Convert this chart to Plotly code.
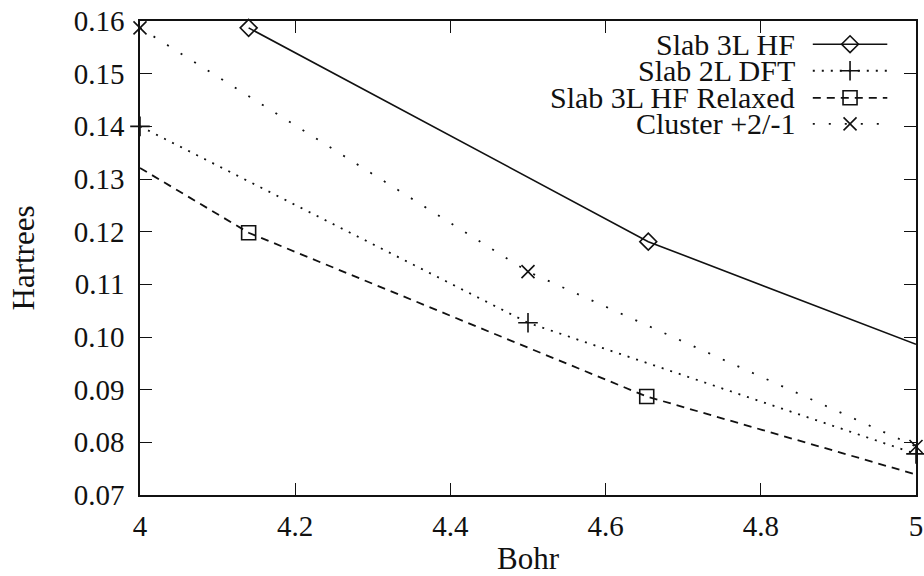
import plotly.graph_objects as go

# ---- data ----
hf_x = [4.14, 4.655, 5.0]
hf_y = [0.1587, 0.1181, 0.0986]
hf_marked = 2  # first N points carry a diamond marker

dft_x = [4.0, 4.5, 5.0]
dft_y = [0.1400, 0.1027, 0.0778]

rel_x = [4.0, 4.14, 4.653, 5.0]
rel_y = [0.1321, 0.1198, 0.0887, 0.0739]
rel_marked = (1, 3)  # slice of points carrying square markers

clu_x = [4.0, 4.5, 5.0]
clu_y = [0.1587, 0.1124, 0.0792]

series_names = ["Slab 3L HF", "Slab 2L DFT", "Slab 3L HF Relaxed", "Cluster +2/-1"]
x_ticks = [4.0, 4.2, 4.4, 4.6, 4.8, 5.0]
x_tick_text = ["4", "4.2", "4.4", "4.6", "4.8", "5"]
y_ticks = [0.07, 0.08, 0.09, 0.10, 0.11, 0.12, 0.13, 0.14, 0.15, 0.16]

FONT = "Liberation Serif"
BLACK = "#111111"

styles = [
    dict(dash="solid", width=1.6, symbol="diamond-open", size=13),
    dict(dash="2px,7px", width=1.8, symbol="cross-thin-open", size=14),
    dict(dash="8px,6px", width=1.8, symbol="square-open", size=14),
    dict(dash="2px,14px", width=1.8, symbol="x-thin-open", size=13),
]

fig = go.Figure()

def add_series(x, y, mx, my, st):
    fig.add_trace(go.Scatter(x=x, y=y, mode="lines",
                             line=dict(color=BLACK, width=st["width"], dash=st["dash"]),
                             showlegend=False, hoverinfo="skip"))
    fig.add_trace(go.Scatter(x=mx, y=my, mode="markers", cliponaxis=False,
                             marker=dict(symbol=st["symbol"], size=st["size"], color=BLACK,
                                         line=dict(color=BLACK, width=1.6)),
                             showlegend=False))

add_series(hf_x, hf_y, hf_x[:hf_marked], hf_y[:hf_marked], styles[0])
add_series(dft_x, dft_y, dft_x, dft_y, styles[1])
add_series(rel_x, rel_y, rel_x[rel_marked[0]:rel_marked[1]], rel_y[rel_marked[0]:rel_marked[1]], styles[2])
add_series(clu_x, clu_y, clu_x, clu_y, styles[3])

# ---- legend drawn as keys on an overlay axis (0..1 of plot area) ----
key_x0, key_xm, key_x1 = 0.867, 0.915, 0.963
row_y = [0.951, 0.895, 0.838, 0.783]
text_right = 0.847
annotations = []
for name, st, ry in zip(series_names, styles, row_y):
    fig.add_trace(go.Scatter(x=[key_x0, key_x1], y=[ry, ry], mode="lines",
                             xaxis="x2", yaxis="y2",
                             line=dict(color=BLACK, width=st["width"], dash=st["dash"]),
                             showlegend=False, hoverinfo="skip"))
    fig.add_trace(go.Scatter(x=[key_xm], y=[ry], mode="markers", xaxis="x2", yaxis="y2",
                             marker=dict(symbol=st["symbol"], size=st["size"], color=BLACK,
                                         line=dict(color=BLACK, width=1.6)),
                             showlegend=False, hoverinfo="skip"))
    annotations.append(dict(x=text_right, y=ry, xref="x2", yref="y2", text=name,
                            showarrow=False, xanchor="right", yanchor="middle",
                            font=dict(family=FONT, size=30, color=BLACK)))

axis_common = dict(showline=True, linecolor=BLACK, linewidth=1.6, mirror="ticks",
                   ticks="inside", ticklen=12, tickwidth=1.4, tickcolor=BLACK,
                   showgrid=False, zeroline=False, automargin=False,
                   ticklabeloverflow="allow",
                   tickfont=dict(family=FONT, size=29, color=BLACK))

fig.update_layout(
    width=924, height=576,
    margin=dict(l=140, r=8, t=21, b=81),
    paper_bgcolor="white", plot_bgcolor="white",
    xaxis=dict(range=[4.0, 5.0], tickvals=x_ticks, ticktext=x_tick_text,
               ticklabelstandoff=4,
               title=dict(text="Bohr", font=dict(family=FONT, size=31, color=BLACK), standoff=8),
               **axis_common),
    yaxis=dict(range=[0.07, 0.16], tickvals=y_ticks, tickformat=".2f",
               ticklabelstandoff=8,
               title=dict(text="Hartrees", font=dict(family=FONT, size=31, color=BLACK), standoff=30),
               **axis_common),
    xaxis2=dict(overlaying="x", range=[0, 1], visible=False, anchor="y2"),
    yaxis2=dict(overlaying="y", range=[0, 1], visible=False, anchor="x2"),
    annotations=annotations,
)

# remove the default 8px page margin so the figure fills the window exactly
fig.write_html("out.html", config={"displayModeBar": False},
               post_script="document.body.style.margin='0';")
